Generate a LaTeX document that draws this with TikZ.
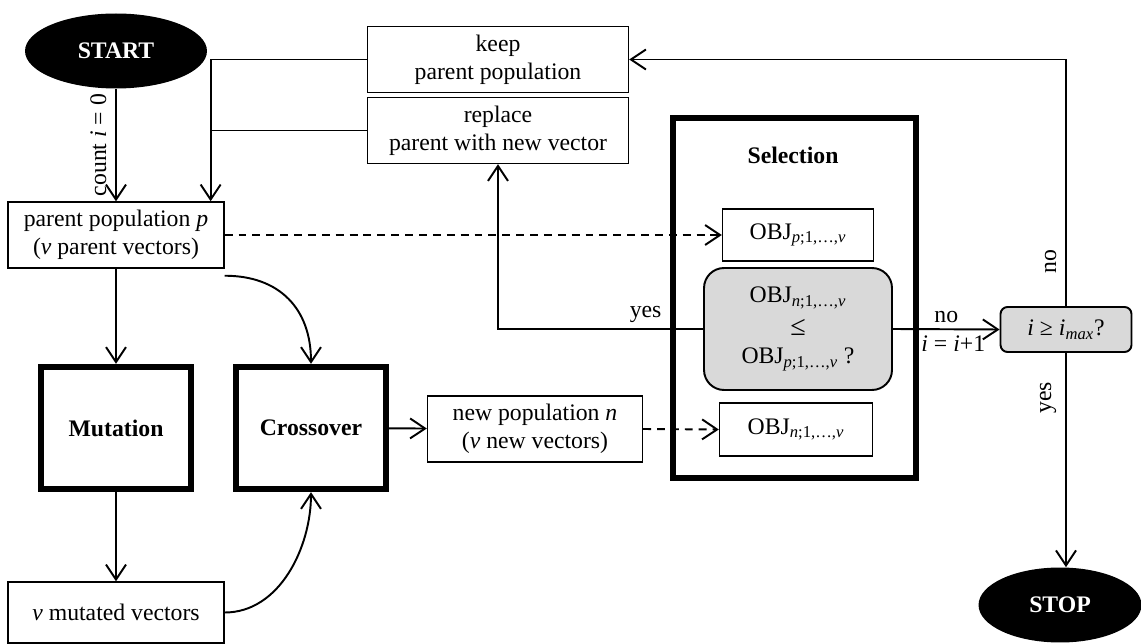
\documentclass[tikz,border=0pt]{standalone}
\usepackage{fontspec}
\setmainfont{Liberation Serif}
\usetikzlibrary{arrows.meta,shapes.geometric}
\newcommand{\picfont}{\fontsize{13.5}{16}\selectfont}
\tikzset{
  every node/.style={font=\picfont},
  box/.style={draw, line width=0.8pt, fill=white, align=center, inner sep=0pt},
  stepframe/.style={draw, line width=3.6pt, inner sep=0pt, font=\picfont\bfseries},
  term/.style={ellipse, fill=black, text=white, inner sep=0pt,
    minimum height=1.5cm, font=\picfont\bfseries},
  test/.style={draw, line width=1.1pt, fill=gray!30, align=center, inner sep=0pt},
  arr/.style={-{Straight Barb[length=0.3cm,width=0.4cm]}, line width=1.1pt},
  dasharr/.style={arr, dash pattern=on 4.5pt off 3.4pt},
  sidelabel/.style={rotate=90, anchor=south, inner sep=5pt}
}
\begin{document}
\begin{tikzpicture}[x=0.02cm,y=-0.02cm]
  \useasboundingbox (0,0) rectangle (1141,644);
  % start and parent population
  \node [term, minimum width=3.64cm] (start) at (116,51) {START};
  \node [box, minimum width=4.32cm, minimum height=1.32cm] (parent) at (116,235)
    {parent population \textit{p}\\(\textit{v} parent vectors)};
  \node [box, minimum width=5.22cm, minimum height=1.32cm] (keep) at (498,59.5)
    {keep\\parent population};
  \node [box, minimum width=5.22cm, minimum height=1.32cm] (replace) at (498,130.5)
    {replace\\parent with new vector};
  % operators
  \node [stepframe, minimum width=3cm, minimum height=2.44cm] (mut) at (116,428) {Mutation};
  \node [stepframe, minimum width=3cm, minimum height=2.44cm] (cross) at (311,428) {Crossover};
  \node [box, minimum width=4.32cm, minimum height=1.22cm] (mutated) at (116,612.5)
    {\textit{v} mutated vectors};
  \node [box, minimum width=4.3cm, minimum height=1.32cm] (newpop) at (535,429)
    {new population \textit{n}\\(\textit{v} new vectors)};
  % selection
  \node [stepframe, minimum width=4.86cm, minimum height=7.2cm] (sel) at (794.5,298) {};
  \node [font=\picfont\bfseries] (seltitle) at (793,155) {Selection};
  \node [box, minimum width=3.02cm, minimum height=1.04cm] (objp) at (798,235)
    {OBJ\textsubscript{\textit{p};1,\ldots,\textit{v}}};
  \node [test, rounded corners=0.4cm, minimum width=3.76cm, minimum height=2.44cm]
    (cmp) at (798,329)
    {OBJ\textsubscript{\textit{n};1,\ldots,\textit{v}}\\[3pt]{\fontsize{16}{16}\selectfont ≤}\\
     OBJ\textsubscript{\textit{p};1,\ldots,\textit{v}} ?};
  \node [box, minimum width=3.06cm, minimum height=1.06cm] (objn) at (796,429.5)
    {OBJ\textsubscript{\textit{n};1,\ldots,\textit{v}}};
  \node [test, rounded corners=0.14cm, minimum width=2.62cm, minimum height=0.9cm]
    (imax) at (1066,329.5) {\textit{i} ≥ \textit{i}\textsubscript{\textit{max}}?};
  \node [term, minimum width=3.26cm] (stop) at (1060,605) {STOP};
  % connectors
  \coordinate (back) at ([xshift=-8pt]parent.north east);
  \draw [arr] (start) -- node [midway, sidelabel] {count \textit{i} = 0}
    (start |- parent.north);
  \draw [arr] (keep.west) -| (back);
  \draw [line width=1.1pt] (replace.west) -- (replace.west -| back);
  \draw [arr] (parent) -- (mut);
  \draw [arr] (mut) -- (mutated);
  \draw [arr] ([yshift=-4pt]parent.east |- parent.south)
    .. controls +(55,0) and +(0,-55) .. (cross.north);
  \draw [arr] (mutated.east) .. controls +(55,0) and +(0,55) .. (cross.south);
  \draw [arr] (cross) -- (newpop);
  \draw [dasharr] (parent.east) -- (objp.west);
  \draw [dasharr] (newpop.east) -- (objn.west);
  \draw [arr] (cmp.west) -| node [pos=0.14, above] {yes} (replace.south);
  \draw [arr] (cmp.east) -- node [above] {no}
    node [below, xshift=4pt] {\textit{i} = \textit{i}+1} (imax.west);
  \draw [arr] (imax.north) |- node [pos=0.09, sidelabel] {no} (keep.east);
  \draw [arr] (imax.south) -- node [pos=0.21, sidelabel] {yes}
    (imax.south |- stop.north);
\end{tikzpicture}
\end{document}
